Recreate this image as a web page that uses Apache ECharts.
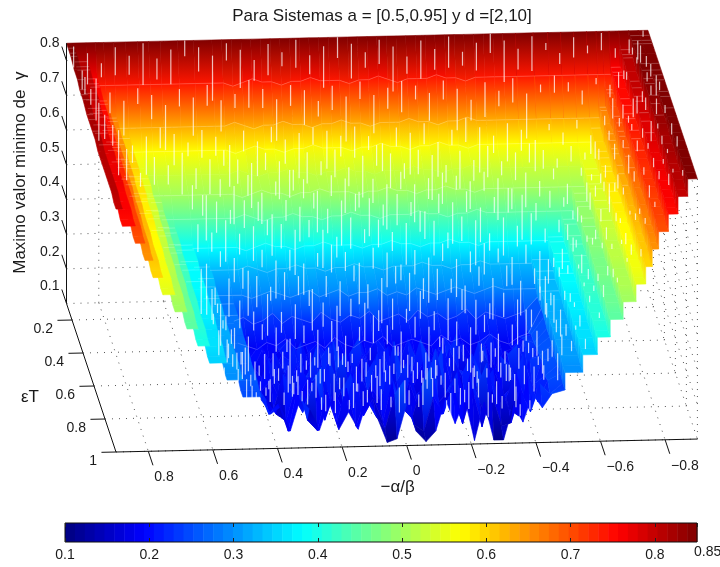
<!DOCTYPE html>
<html>
<head>
<meta charset="utf-8">
<title>Para Sistemas</title>
<script src="https://cdn.jsdelivr.net/npm/echarts@6/dist/echarts.min.js"></script>
<style>
  html, body { margin: 0; padding: 0; background: #fff; }
  #main { width: 720px; height: 567px; }
</style>
</head>
<body>
<div id="main"></div>
<script>
// -alpha/beta, left to right on the picture
var xs = [0.90,0.88,0.84,0.81,0.785,0.755,0.717,0.68,0.646,0.61,0.556,0.507,
  0.45,0.42,0.39,0.36,0.33,0.30,0.27,0.24,0.21,0.18,0.15,0.12,0.09,0.06,0.03,0,-0.03,-0.06,-0.09,-0.12,-0.15,-0.18,-0.21,-0.24,-0.27,-0.30,-0.33,-0.36,-0.39,-0.42,-0.45,
  -0.49,-0.545,-0.59,-0.63,-0.67,-0.71,-0.74,-0.76,-0.78,-0.81,-0.84,-0.87,-0.90];
// epsilon T, back to front
var ys = [0.10,0.13,0.16,0.18,0.24,0.30,0.34,0.37,0.40,0.47,0.50,0.57,0.62,0.67,0.72,0.77,0.82,0.87,0.92,0.96,1.00];
// gamma x 100, one line per value of ys
var gamma = [
 [85,85,85,85,85,85,85,85,85,85,85,85, 85,85,85,85,85,85,85,85,85,85,85,85,85,85,85,85,85,85,85,85,85,85,85,85,85,85,85,85,85,85,85, 85,85,85,85,85,85,85,85,85,85,85,85,85],
 [85,81,76,74,74,74,74,74,74,74,74,74, 74,74,73,74,75,74,74,73,74,74,75,74,74,74,73,74,74,75,74,73,74,74,74,75,74,74,73,74,74,74,74, 74,74,74,74,74,74,74,74,74,76,81,85,85],
 [85,81,76,71,66,63,63,63,63,63,63,63, 63,63,64,63,62,63,63,64,63,63,62,63,63,64,63,63,62,63,63,63,64,63,63,62,63,63,64,63,63,63,63, 63,63,63,63,63,63,63,66,71,76,81,85,85],
 [85,81,76,71,66,61,57,57,57,57,57,57, 57,57,56,57,58,57,57,56,57,57,58,57,57,57,56,57,57,58,57,57,56,57,57,58,57,57,56,57,57,57,57, 57,57,57,57,57,57,61,66,71,76,81,85,85],
 [84,80,75,70,65,60,55,53,53,53,53,53, 53,53,54,53,52,53,53,54,53,53,52,53,53,54,53,53,52,53,53,53,54,53,53,52,53,53,54,53,53,53,53, 53,53,53,53,53,55,60,65,70,75,80,85,85],
 [84,80,75,70,65,60,55,50,50,50,50,50, 50,50,49,50,51,50,50,49,50,50,51,50,50,50,49,50,50,51,50,50,49,50,50,51,50,50,49,50,50,50,50, 50,50,50,50,50,55,60,65,70,75,80,85,85],
 [83,80,75,70,65,60,55,50,45,45,45,45, 45,45,46,45,44,45,45,46,45,45,44,45,45,46,45,45,44,45,45,45,46,45,45,44,45,45,46,45,45,45,45, 45,45,45,45,50,55,60,65,70,75,80,85,85],
 [83,79,74,69,64,59,54,49,44,39,38,38, 38,38,37,38,39,38,38,37,38,38,39,38,38,38,37,38,38,39,38,38,37,38,38,39,38,38,37,38,38,38,38, 38,38,39,44,49,54,59,64,69,74,79,84,85],
 [83,79,74,69,64,59,54,49,44,39,34,33, 33,33,34,33,32,33,33,34,33,33,32,33,33,34,33,33,32,33,33,33,34,33,33,32,33,33,34,33,33,33,33, 33,34,39,44,49,54,59,64,69,74,79,84,85],
 [82,79,74,69,64,59,54,49,44,39,34,29, 29,29,28,29,30,29,28,29,30,28,29,30,28,29,29,30,28,29,28,30,29,28,29,30,29,28,29,30,29,29,29, 29,34,39,44,49,54,59,64,69,74,79,84,85],
 [82,78,73,68,63,58,53,48,43,38,33,28, 23,24,22,23,25,22,24,23,22,25,23,22,24,23,25,22,23,24,22,25,23,24,22,23,25,22,24,23,22,23,24, 28,33,38,43,48,53,58,63,68,73,78,83,85],
 [82,78,73,68,63,58,53,48,43,38,33,28, 20,19,18,20,19,21,18,19,20,18,21,19,18,20,19,21,18,19,20,19,18,21,19,20,18,19,21,19,18,20,21, 28,33,38,43,48,53,58,63,68,73,78,83,85],
 [82,78,73,68,63,58,53,48,43,38,33,28, 21,18,22,17,20,23,17,19,22,18,24,17,20,18,23,19,16,22,18,20,17,23,19,21,16,20,24,18,19,22,23, 28,33,38,43,48,53,58,63,68,73,78,83,85],
 [81,77,72,67,62,57,52,47,42,37,32,27, 22,17,23,16,21,19,25,16,20,24,17,21,26,16,19,23,17,25,18,16,22,19,26,17,20,23,16,21,18,24,23, 27,32,37,42,47,52,57,62,67,72,77,82,85],
 [81,77,72,67,62,57,52,47,42,37,32,27, 23,19,16,24,18,26,16,21,17,27,19,15,23,18,25,16,20,17,27,21,16,24,18,17,26,20,16,22,25,18,24, 27,32,37,42,47,52,57,62,67,72,77,82,85],
 [81,77,72,67,62,57,52,47,42,37,32,27, 22,16,25,18,15,23,19,28,15,21,26,16,19,24,15,29,18,16,23,20,27,15,19,25,17,16,24,21,15,23,24, 27,32,37,42,47,52,57,62,67,72,77,82,85],
 [81,76,71,66,61,56,51,46,41,36,31,26, 24,18,21,15,26,17,22,15,27,19,15,24,17,28,15,20,25,16,18,29,16,21,15,26,19,23,15,18,27,17,25, 26,31,36,41,46,51,56,61,66,71,76,81,85],
 [81,76,71,66,61,56,51,46,41,36,31,26, 23,17,15,25,19,14,23,27,15,20,25,14,21,17,26,15,22,14,28,16,19,25,14,20,27,15,17,24,16,21,23, 26,31,36,41,46,51,56,61,66,71,76,81,85],
 [81,76,71,66,61,56,51,46,41,36,31,26, 24,20,16,14,24,18,26,14,22,16,27,15,20,13,25,17,14,23,29,15,21,14,26,18,13,24,16,14,25,18,24, 26,31,36,41,46,51,56,61,66,71,76,81,85],
 [80,75,70,65,60,55,50,45,40,35,30,25, 25,18,21,13,26,16,13,24,15,25,14,22,17,13,23,27,14,12,22,17,25,14,24,13,23,13,14,23,17,25,22, 25,30,35,40,45,50,55,60,65,70,75,80,85],
 [80,75,70,65,60,55,50,45,40,35,30,25, 24,20,22,15,24,21,15,23,15,20,15,24,18,11,12,22,14,11,14,23,16,23,11,22,11,11,21,16,24,20,24, 25,30,35,40,45,50,55,60,65,70,75,80,85]
];

var xTicks = [0.8,0.6,0.4,0.2,0,-0.2,-0.4,-0.6,-0.8];
var xTickLabels = ['0.8','0.6','0.4','0.2','0','\u22120.2','\u22120.4','\u22120.6','\u22120.8'];
var yTicks = [0.2,0.4,0.6,0.8,1];
var yTickLabels = ['0.2','0.4','0.6','0.8','1'];
var zTicks = [0.1,0.2,0.3,0.4,0.5,0.6,0.7,0.8];
var zTickLabels = ['0.1','0.2','0.3','0.4','0.5','0.6','0.7','0.8'];
// white rendering gaps of the mesh: how far they drop and how far below the row they start, in gamma
var gapDrops = [0.04,0.09,0.06,0.11,0.05,0.13,0.07,0.045,0.10,0.06,0.12,0.055,0.08];
var gapStarts = [0,0.02,0.045,0.01,0.03,0.06,0.015,0.04,0.005,0.05,0.025];

var xMax = 0.9, yMin = 0.1, yMax = 1, zMin = 0.1, zMax = 0.85;
var FONT = '"Liberation Sans", Arial, sans-serif';
var INK = '#1a1a1a';

// view of the 3d box on the page plane
function project(x, y, z) {
  return [
    116 + (xMax - x) * 323 + (y - yMax) * 55,
    452 - (xMax - x) * 7.2 + (y - yMax) * 165 - (z - zMin) * 347
  ];
}

function jet(t) {
  t = Math.max(0, Math.min(1, t));
  function ch(v) { return Math.round(255 * Math.max(0, Math.min(1, v))); }
  var r = 1.5 - Math.abs(4 * t - 3);
  var g = 1.5 - Math.abs(4 * t - 2);
  var b = 1.5 - Math.abs(4 * t - 1);
  return 'rgb(' + ch(r) + ',' + ch(g) + ',' + ch(b) + ')';
}
function zColor(z) { return jet((z - zMin) / (zMax - zMin)); }

// outer parts of the surface step from column to column
var LEFT_STEPS = 12, RIGHT_STEPS = 43;
function cellZ(i, j) {
  var r = gamma[j];
  if (i < LEFT_STEPS) return [r[i] / 100, r[i] / 100];
  if (i >= RIGHT_STEPS) return [r[i + 1] / 100, r[i + 1] / 100];
  return [r[i] / 100, r[i + 1] / 100];
}
function surfaceAt(x, j) {
  for (var i = 0; i < xs.length - 1; i++) {
    if (x <= xs[i] && x >= xs[i + 1]) {
      var h = cellZ(i, j);
      var f = (xs[i] - x) / (xs[i] - xs[i + 1]);
      return h[0] + (h[1] - h[0]) * f;
    }
  }
  return gamma[j][0] / 100;
}

// centre and right row by row, then the raised left columns from the inside out
var cells = [];
var i, j;
for (j = 0; j < ys.length - 1; j++) {
  for (i = LEFT_STEPS; i < xs.length - 1; i++) cells.push([i, j]);
}
for (i = LEFT_STEPS - 1; i >= 0; i--) {
  for (j = 0; j < ys.length - 1; j++) cells.push([i, j]);
}

var gaps = [];
var k = 0;
for (var gx = -0.885; gx < 0.89; gx += 0.0215) {
  for (var r = 0; r < 17; r++) {
    if ((k + r) % 2 === 0 && !(gx > 0.55 && r > 3)) {
      var drop = gapDrops[(k * 7 + r * 3) % gapDrops.length];
      if (r > 10) drop *= 0.6;
      if (gx < -0.55) drop *= 0.45;
      gaps.push([gx, r, drop, gapStarts[(k * 5 + r) % gapStarts.length]]);
    }
  }
  k++;
}

// faint mesh rows
var meshRows = [1, 2, 3, 5, 6, 7, 8, 9, 10, 11];
var meshCells = [];
meshRows.forEach(function (row) {
  for (var c = 0; c < xs.length - 1; c++) meshCells.push([c, row]);
});

// dotted grid on the back wall, the right wall and the floor
var dotted = [];
zTicks.forEach(function (z) {
  dotted.push([[xMax, yMin, z], [-xMax, yMin, z]]);
  dotted.push([[-xMax, yMin, z], [-xMax, yMax, z]]);
});
xTicks.forEach(function (x) {
  dotted.push([[x, yMin, zMin], [x, yMin, zMax]]);
  dotted.push([[x, yMin, zMin], [x, yMax, zMin]]);
});
yTicks.forEach(function (y) {
  dotted.push([[xMax, y, zMin], [-xMax, y, zMin]]);
  dotted.push([[-xMax, y, zMin], [-xMax, y, zMax]]);
});

var solid = [
  [[xMax, yMin, zMin], [xMax, yMin, zMax]],
  [[xMax, yMin, zMin], [xMax, yMax, zMin]],
  [[xMax, yMax, zMin], [-xMax, yMax, zMin]]
];
xTicks.forEach(function (x) { solid.push([[x, yMax, zMin], [x, yMax + 0.085, zMin]]); });
yTicks.forEach(function (y) { solid.push([[xMax, y, zMin], [xMax + 0.045, y, zMin]]); });
zTicks.forEach(function (z) { solid.push([[xMax, yMin, z], [xMax, yMin - 0.085, z]]); });

var texts = [];
xTicks.forEach(function (x, n) {
  texts.push({ p: [x, yMax, zMin], dx: 6, dy: 26, text: xTickLabels[n], align: 'left' });
});
yTicks.forEach(function (y, n) {
  texts.push({ p: [xMax, y, zMin], dx: -19, dy: 9, text: yTickLabels[n], align: 'right' });
});
zTicks.forEach(function (z, n) {
  texts.push({ p: [xMax, yMin, z], dx: -7, dy: -17, text: zTickLabels[n], align: 'right' });
});
texts.push({ p: [xMax, 0.6, zMin], dx: -64, dy: 11, text: '\u03b5T', align: 'center', size: 17 });
texts.push({ p: [0, yMax, zMin], dx: -9, dy: 42, text: '\u2212\u03b1/\u03b2', align: 'center', size: 17 });
texts.push({ p: [xMax, yMin, 0.5], dx: -46, dy: 8, text: 'Maximo valor minimo de  \u03b3', align: 'center', size: 17, rot: Math.PI / 2 });

function lineItem(params, api, list, style) {
  var seg = list[params.dataIndex];
  var a = api.coord(project.apply(null, seg[0]));
  var b = api.coord(project.apply(null, seg[1]));
  return { type: 'line', shape: { x1: a[0], y1: a[1], x2: b[0], y2: b[1] }, style: style };
}
function indexData(list) { return list.map(function (d, n) { return [n, 0]; }); }

var barCells = [];
for (var c = 0; c < 64; c++) barCells.push(c);

var chart = echarts.init(document.getElementById('main'), null, { renderer: 'canvas' });
chart.setOption({
  animation: false,
  backgroundColor: '#fff',
  title: {
    text: 'Para Sistemas a = [0.5,0.95] y d =[2,10]',
    left: 377, top: 3, textAlign: 'center',
    textStyle: { fontFamily: FONT, fontSize: 17, fontWeight: 'normal', color: INK }
  },
  grid: [
    { left: 0, top: 0, width: 720, height: 567 },
    { left: 65, top: 523, width: 632, height: 19 }
  ],
  xAxis: [
    { gridIndex: 0, type: 'value', min: 0, max: 720, show: false },
    { gridIndex: 1, type: 'value', min: 0.1, max: 0.85, interval: 0.1, position: 'bottom', z: 10,
      axisLine: { show: false }, splitLine: { show: false },
      axisTick: { inside: true, length: 4, lineStyle: { color: '#222' } },
      axisLabel: { show: true, showMaxLabel: false, margin: 6, color: INK, fontFamily: FONT, fontSize: 14 } },
    { gridIndex: 1, type: 'value', min: 0.1, max: 0.85, interval: 0.1, position: 'top', z: 10,
      axisLine: { show: false }, splitLine: { show: false },
      axisTick: { inside: true, length: 4, lineStyle: { color: '#222' } },
      axisLabel: { show: false } }
  ],
  yAxis: [
    { gridIndex: 0, type: 'value', min: 0, max: 567, inverse: true, show: false },
    { gridIndex: 1, type: 'value', min: 0, max: 1, show: false }
  ],
  series: [
    { // walls and floor
      type: 'custom', coordinateSystem: 'cartesian2d', xAxisIndex: 0, yAxisIndex: 0, silent: true, clip: false, z: 1,
      data: indexData(dotted),
      renderItem: function (params, api) {
        return lineItem(params, api, dotted, { stroke: '#555', lineWidth: 1, lineDash: [1, 6] });
      }
    },
    { // surface
      type: 'custom', coordinateSystem: 'cartesian2d', xAxisIndex: 0, yAxisIndex: 0, silent: true, clip: false, z: 2,
      data: cells,
      renderItem: function (params, api) {
        var i = cells[params.dataIndex][0], j = cells[params.dataIndex][1];
        var back = cellZ(i, j), front = cellZ(i, j + 1);
        var pts = [
          project(xs[i], ys[j], back[0]),
          project(xs[i + 1], ys[j], back[1]),
          project(xs[i + 1], ys[j + 1], front[1]),
          project(xs[i], ys[j + 1], front[0])
        ].map(function (p) { return api.coord(p); });
        var fill = new echarts.graphic.LinearGradient(0, 0, 0, 1, [
          { offset: 0, color: zColor((back[0] + back[1]) / 2) },
          { offset: 1, color: zColor((front[0] + front[1]) / 2) }
        ]);
        var quad = { type: 'polygon', shape: { points: pts }, style: { fill: fill, stroke: fill, lineWidth: 0.6 } };
        if (i < RIGHT_STEPS) return quad;
        // the step up to the next column on the right side faces the viewer
        var inBack = gamma[j][i] / 100, inFront = gamma[j + 1][i] / 100;
        var wallPts = [
          project(xs[i], ys[j], inBack),
          project(xs[i], ys[j], back[0]),
          project(xs[i], ys[j + 1], front[0]),
          project(xs[i], ys[j + 1], inFront)
        ].map(function (p) { return api.coord(p); });
        var wallFill = new echarts.graphic.LinearGradient(0, 1, 1, 0, [
          { offset: 0, color: zColor((inBack + inFront) / 2) },
          { offset: 1, color: zColor((back[0] + front[0]) / 2) }
        ]);
        return { type: 'group', children: [
          { type: 'polygon', shape: { points: wallPts }, style: { fill: wallFill, stroke: wallFill, lineWidth: 0.6 } },
          quad
        ] };
      }
    },
    { // faint mesh rows
      type: 'custom', coordinateSystem: 'cartesian2d', xAxisIndex: 0, yAxisIndex: 0, silent: true, clip: false, z: 3,
      data: meshCells,
      renderItem: function (params, api) {
        var m = meshCells[params.dataIndex];
        var h = cellZ(m[0], m[1]);
        var a = api.coord(project(xs[m[0]], ys[m[1]], h[0]));
        var b = api.coord(project(xs[m[0] + 1], ys[m[1]], h[1]));
        return { type: 'line', shape: { x1: a[0], y1: a[1], x2: b[0], y2: b[1] }, style: { stroke: 'rgba(255,255,255,0.2)', lineWidth: 1 } };
      }
    },
    { // white gaps of the rendered mesh
      type: 'custom', coordinateSystem: 'cartesian2d', xAxisIndex: 0, yAxisIndex: 0, silent: true, clip: false, z: 3,
      data: indexData(gaps),
      renderItem: function (params, api) {
        var g = gaps[params.dataIndex];
        var z = surfaceAt(g[0], g[1]) - g[3];
        var a = api.coord(project(g[0], ys[g[1]], z));
        var b = api.coord(project(g[0], ys[g[1]], z - g[2]));
        return { type: 'line', shape: { x1: a[0], y1: a[1], x2: b[0], y2: b[1] }, style: { stroke: 'rgba(255,255,255,0.72)', lineWidth: 1.2 } };
      }
    },
    { // axis lines and ticks
      type: 'custom', coordinateSystem: 'cartesian2d', xAxisIndex: 0, yAxisIndex: 0, silent: true, clip: false, z: 4,
      data: indexData(solid),
      renderItem: function (params, api) {
        return lineItem(params, api, solid, { stroke: '#111', lineWidth: 1 });
      }
    },
    { // tick labels and axis names
      type: 'custom', coordinateSystem: 'cartesian2d', xAxisIndex: 0, yAxisIndex: 0, silent: true, clip: false, z: 5,
      data: indexData(texts),
      renderItem: function (params, api) {
        var t = texts[params.dataIndex];
        var c = api.coord(project.apply(null, t.p));
        return {
          type: 'text', x: c[0] + t.dx, y: c[1] + t.dy, rotation: t.rot || 0,
          style: { text: t.text, fill: INK, font: (t.size || 14) + 'px ' + FONT, align: t.align, verticalAlign: 'middle' }
        };
      }
    },
    { // colorbar
      type: 'custom', coordinateSystem: 'cartesian2d', xAxisIndex: 1, yAxisIndex: 1, silent: true, z: 2,
      data: barCells.map(function (n) { return [0.1 + n * 0.75 / 64, 0]; }),
      renderItem: function (params, api) {
        var n = params.dataIndex;
        var a = api.coord([zMin + n * (zMax - zMin) / 64, 1]);
        var b = api.coord([zMin + (n + 1) * (zMax - zMin) / 64, 0]);
        return { type: 'rect', shape: { x: a[0], y: a[1], width: b[0] - a[0] + 0.5, height: b[1] - a[1] }, style: { fill: jet((n + 0.5) / 64) } };
      }
    },
    { // colorbar frame and its last label
      type: 'custom', coordinateSystem: 'cartesian2d', xAxisIndex: 1, yAxisIndex: 1, silent: true, clip: false, z: 3,
      data: [[0.1, 0]],
      renderItem: function (params, api) {
        var a = api.coord([zMin, 1]);
        var b = api.coord([zMax, 0]);
        return { type: 'group', children: [
          { type: 'rect', shape: { x: a[0], y: a[1], width: b[0] - a[0], height: b[1] - a[1] }, style: { fill: 'none', stroke: '#111', lineWidth: 1 } },
          { type: 'text', x: b[0] - 3, y: b[1] + 10, style: { text: '0.85', fill: INK, font: '14px ' + FONT, align: 'left', verticalAlign: 'middle' } }
        ] };
      }
    }
  ]
});
window.addEventListener('resize', function () {
  chart.resize();
});
</script>
</body>
</html>
